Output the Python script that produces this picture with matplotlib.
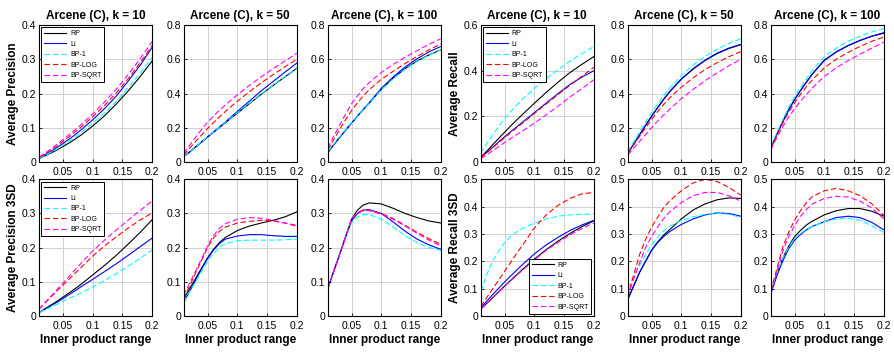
import matplotlib
matplotlib.use("Agg")
import matplotlib.pyplot as plt
from matplotlib.ticker import FuncFormatter

plt.rcParams['font.family'] = ['Liberation Sans', 'DejaVu Sans']

# ---------------- data ----------------
X = [0.01, 0.02, 0.03, 0.04, 0.05, 0.06, 0.07, 0.08, 0.10, 0.12, 0.14, 0.16, 0.18, 0.20]
SERIES = ["RP", "Li", "BP-1", "BP-LOG", "BP-SQRT"]

# Average Precision, k = 10
P10_RP   = [0.010, 0.018, 0.026, 0.035, 0.045, 0.055, 0.066, 0.078, 0.105, 0.135, 0.170, 0.208, 0.250, 0.295]
P10_LI   = [0.012, 0.021, 0.031, 0.042, 0.054, 0.066, 0.079, 0.093, 0.123, 0.156, 0.193, 0.237, 0.283, 0.335]
P10_BP1  = [0.011, 0.019, 0.028, 0.038, 0.049, 0.060, 0.072, 0.085, 0.113, 0.143, 0.178, 0.218, 0.260, 0.305]
P10_LOG  = [0.013, 0.024, 0.035, 0.047, 0.060, 0.073, 0.087, 0.101, 0.132, 0.165, 0.202, 0.244, 0.290, 0.340]
P10_SQRT = [0.014, 0.026, 0.038, 0.051, 0.065, 0.079, 0.093, 0.108, 0.140, 0.175, 0.213, 0.256, 0.302, 0.352]
# Average Precision, k = 50
P50_RP   = [0.030, 0.058, 0.087, 0.116, 0.145, 0.173, 0.201, 0.229, 0.285, 0.340, 0.395, 0.447, 0.497, 0.548]
P50_LI   = [0.032, 0.060, 0.089, 0.118, 0.147, 0.176, 0.205, 0.234, 0.295, 0.355, 0.415, 0.470, 0.525, 0.578]
P50_BP1  = [0.032, 0.060, 0.089, 0.118, 0.147, 0.175, 0.203, 0.231, 0.288, 0.343, 0.397, 0.449, 0.499, 0.550]
P50_LOG  = [0.040, 0.080, 0.120, 0.158, 0.195, 0.230, 0.263, 0.295, 0.355, 0.410, 0.462, 0.510, 0.556, 0.600]
P50_SQRT = [0.050, 0.098, 0.145, 0.190, 0.232, 0.268, 0.302, 0.333, 0.392, 0.447, 0.497, 0.545, 0.590, 0.635]
# Average Precision, k = 100
P100_RP   = [0.055, 0.100, 0.143, 0.186, 0.227, 0.268, 0.307, 0.345, 0.425, 0.490, 0.545, 0.590, 0.625, 0.655]
P100_LI   = [0.055, 0.100, 0.143, 0.186, 0.227, 0.268, 0.308, 0.347, 0.430, 0.497, 0.555, 0.603, 0.643, 0.675]
P100_BP1  = [0.060, 0.104, 0.147, 0.189, 0.229, 0.269, 0.307, 0.344, 0.422, 0.487, 0.542, 0.587, 0.623, 0.655]
P100_LOG  = [0.070, 0.130, 0.190, 0.247, 0.300, 0.345, 0.387, 0.423, 0.483, 0.530, 0.575, 0.617, 0.655, 0.690]
P100_SQRT = [0.080, 0.150, 0.215, 0.280, 0.340, 0.387, 0.430, 0.465, 0.523, 0.570, 0.612, 0.650, 0.687, 0.720]
# Average Recall, k = 10
R10_RP   = [0.020, 0.047, 0.075, 0.103, 0.130, 0.157, 0.183, 0.208, 0.257, 0.305, 0.350, 0.392, 0.428, 0.462]
R10_LI   = [0.020, 0.042, 0.064, 0.087, 0.110, 0.132, 0.153, 0.174, 0.216, 0.258, 0.300, 0.340, 0.372, 0.400]
R10_BP1  = [0.040, 0.080, 0.118, 0.155, 0.190, 0.220, 0.248, 0.275, 0.322, 0.365, 0.405, 0.442, 0.475, 0.505]
R10_LOG  = [0.020, 0.041, 0.062, 0.084, 0.106, 0.128, 0.149, 0.170, 0.212, 0.254, 0.296, 0.336, 0.376, 0.415]
R10_SQRT = [0.015, 0.032, 0.049, 0.067, 0.085, 0.102, 0.119, 0.136, 0.170, 0.207, 0.245, 0.285, 0.322, 0.360]
# Average Recall, k = 50
R50_RP   = [0.050, 0.105, 0.160, 0.215, 0.267, 0.317, 0.365, 0.410, 0.485, 0.545, 0.595, 0.635, 0.665, 0.687]
R50_LI   = [0.050, 0.104, 0.158, 0.212, 0.265, 0.315, 0.363, 0.408, 0.483, 0.543, 0.593, 0.633, 0.663, 0.685]
R50_BP1  = [0.060, 0.118, 0.175, 0.232, 0.287, 0.338, 0.386, 0.430, 0.505, 0.567, 0.617, 0.658, 0.692, 0.720]
R50_LOG  = [0.050, 0.100, 0.150, 0.200, 0.248, 0.293, 0.335, 0.373, 0.437, 0.492, 0.540, 0.580, 0.615, 0.645]
R50_SQRT = [0.040, 0.080, 0.120, 0.160, 0.200, 0.238, 0.273, 0.306, 0.370, 0.425, 0.475, 0.520, 0.562, 0.600]
# Average Recall, k = 100
R100_RP   = [0.080, 0.160, 0.235, 0.305, 0.365, 0.418, 0.468, 0.515, 0.595, 0.643, 0.680, 0.710, 0.735, 0.755]
R100_LI   = [0.080, 0.158, 0.232, 0.302, 0.362, 0.416, 0.466, 0.513, 0.593, 0.642, 0.680, 0.710, 0.735, 0.752]
R100_BP1  = [0.090, 0.170, 0.245, 0.318, 0.380, 0.435, 0.487, 0.535, 0.615, 0.665, 0.705, 0.735, 0.760, 0.780]
R100_LOG  = [0.080, 0.155, 0.225, 0.290, 0.345, 0.395, 0.440, 0.480, 0.550, 0.600, 0.640, 0.675, 0.705, 0.730]
R100_SQRT = [0.070, 0.140, 0.205, 0.262, 0.310, 0.355, 0.395, 0.432, 0.500, 0.550, 0.592, 0.630, 0.665, 0.700]
# Average Precision 3SD, k = 10
PS10_RP   = [0.010, 0.021, 0.032, 0.043, 0.055, 0.067, 0.079, 0.092, 0.120, 0.148, 0.178, 0.211, 0.245, 0.282]
PS10_LI   = [0.010, 0.020, 0.030, 0.040, 0.051, 0.062, 0.073, 0.085, 0.107, 0.130, 0.153, 0.178, 0.203, 0.228]
PS10_BP1  = [0.010, 0.018, 0.026, 0.034, 0.043, 0.051, 0.059, 0.067, 0.085, 0.104, 0.124, 0.146, 0.169, 0.193]
PS10_LOG  = [0.020, 0.038, 0.056, 0.073, 0.090, 0.107, 0.124, 0.141, 0.175, 0.205, 0.232, 0.258, 0.281, 0.302]
PS10_SQRT = [0.020, 0.039, 0.058, 0.077, 0.096, 0.115, 0.134, 0.153, 0.190, 0.222, 0.252, 0.281, 0.309, 0.337]
# Average Precision 3SD, k = 50
PS50_RP   = [0.050, 0.080, 0.110, 0.140, 0.170, 0.195, 0.215, 0.230, 0.250, 0.263, 0.272, 0.280, 0.290, 0.305]
PS50_LI   = [0.040, 0.072, 0.105, 0.138, 0.168, 0.193, 0.212, 0.225, 0.234, 0.238, 0.238, 0.235, 0.233, 0.233]
PS50_BP1  = [0.040, 0.070, 0.100, 0.130, 0.160, 0.183, 0.200, 0.212, 0.220, 0.222, 0.222, 0.222, 0.223, 0.225]
PS50_LOG  = [0.050, 0.088, 0.126, 0.163, 0.200, 0.228, 0.248, 0.260, 0.272, 0.277, 0.280, 0.278, 0.272, 0.265]
PS50_SQRT = [0.060, 0.096, 0.132, 0.168, 0.205, 0.235, 0.257, 0.270, 0.283, 0.288, 0.286, 0.280, 0.272, 0.262]
# Average Precision 3SD, k = 100
PS100_RP   = [0.080, 0.130, 0.180, 0.232, 0.283, 0.310, 0.325, 0.331, 0.328, 0.315, 0.300, 0.288, 0.278, 0.272]
PS100_LI   = [0.080, 0.130, 0.180, 0.230, 0.278, 0.300, 0.310, 0.311, 0.300, 0.275, 0.248, 0.225, 0.208, 0.195]
PS100_BP1  = [0.080, 0.130, 0.180, 0.228, 0.272, 0.290, 0.297, 0.297, 0.283, 0.260, 0.235, 0.215, 0.200, 0.192]
PS100_LOG  = [0.080, 0.130, 0.180, 0.232, 0.283, 0.303, 0.310, 0.310, 0.300, 0.285, 0.265, 0.245, 0.226, 0.210]
PS100_SQRT = [0.080, 0.130, 0.180, 0.232, 0.283, 0.302, 0.308, 0.308, 0.298, 0.283, 0.263, 0.242, 0.222, 0.205]
# Average Recall 3SD, k = 10
RS10_RP   = [0.025, 0.046, 0.067, 0.088, 0.109, 0.130, 0.150, 0.170, 0.208, 0.243, 0.274, 0.302, 0.327, 0.348]
RS10_LI   = [0.030, 0.054, 0.078, 0.101, 0.124, 0.146, 0.167, 0.188, 0.227, 0.260, 0.288, 0.313, 0.333, 0.350]
RS10_BP1  = [0.090, 0.150, 0.200, 0.237, 0.268, 0.290, 0.307, 0.320, 0.340, 0.355, 0.365, 0.370, 0.372, 0.373]
RS10_LOG  = [0.035, 0.067, 0.099, 0.131, 0.163, 0.195, 0.228, 0.258, 0.322, 0.370, 0.405, 0.430, 0.447, 0.452]
RS10_SQRT = [0.025, 0.045, 0.066, 0.087, 0.108, 0.128, 0.148, 0.167, 0.205, 0.240, 0.270, 0.297, 0.320, 0.340]
# Average Recall 3SD, k = 50
RS50_RP   = [0.060, 0.110, 0.160, 0.200, 0.240, 0.270, 0.295, 0.315, 0.355, 0.388, 0.410, 0.425, 0.432, 0.430]
RS50_LI   = [0.060, 0.110, 0.160, 0.200, 0.240, 0.268, 0.290, 0.308, 0.335, 0.355, 0.370, 0.377, 0.375, 0.365]
RS50_BP1  = [0.100, 0.145, 0.185, 0.225, 0.260, 0.288, 0.310, 0.328, 0.350, 0.363, 0.372, 0.376, 0.372, 0.360]
RS50_LOG  = [0.070, 0.150, 0.225, 0.280, 0.325, 0.360, 0.395, 0.420, 0.458, 0.487, 0.500, 0.492, 0.470, 0.442]
RS50_SQRT = [0.070, 0.135, 0.195, 0.250, 0.290, 0.325, 0.355, 0.380, 0.415, 0.440, 0.452, 0.452, 0.440, 0.420]
# Average Recall 3SD, k = 100
RS100_RP   = [0.085, 0.150, 0.210, 0.255, 0.290, 0.313, 0.333, 0.347, 0.370, 0.385, 0.393, 0.393, 0.383, 0.365]
RS100_LI   = [0.080, 0.145, 0.200, 0.245, 0.277, 0.298, 0.315, 0.328, 0.345, 0.360, 0.365, 0.360, 0.342, 0.315]
RS100_BP1  = [0.090, 0.155, 0.210, 0.252, 0.283, 0.302, 0.317, 0.328, 0.345, 0.355, 0.358, 0.350, 0.330, 0.305]
RS100_LOG  = [0.090, 0.170, 0.250, 0.305, 0.350, 0.385, 0.415, 0.437, 0.458, 0.467, 0.458, 0.440, 0.410, 0.368]
RS100_SQRT = [0.080, 0.160, 0.235, 0.290, 0.330, 0.365, 0.390, 0.410, 0.430, 0.438, 0.435, 0.420, 0.395, 0.355]

TITLES = ["Arcene (C), k = 10", "Arcene (C), k = 50", "Arcene (C), k = 100",
          "Arcene (C), k = 10", "Arcene (C), k = 50", "Arcene (C), k = 100"]
XTICKS = [0.05, 0.1, 0.15, 0.2]

# ---------------- layout / style ----------------
W, H = 894, 352
LEFTS = [39, 183.7, 327.7, 480.7, 627.7, 770.7]
PW = 113.2
ROWS = [(25, 162), (179.3, 316)]
COLORS = ['black', 'blue', 'cyan', 'red', 'magenta']
STYLES = ['-', '-', (0, (5, 2.5)), (0, (5, 2.5)), (0, (5, 2.5))]

panels = [
    # row 0
    ([P10_RP, P10_LI, P10_BP1, P10_LOG, P10_SQRT], 0.4, 0.1, "Average Precision", 'upper left'),
    ([P50_RP, P50_LI, P50_BP1, P50_LOG, P50_SQRT], 0.8, 0.2, None, None),
    ([P100_RP, P100_LI, P100_BP1, P100_LOG, P100_SQRT], 0.8, 0.2, None, None),
    ([R10_RP, R10_LI, R10_BP1, R10_LOG, R10_SQRT], 0.6, 0.2, "Average Recall", 'upper left'),
    ([R50_RP, R50_LI, R50_BP1, R50_LOG, R50_SQRT], 0.8, 0.2, None, None),
    ([R100_RP, R100_LI, R100_BP1, R100_LOG, R100_SQRT], 0.8, 0.2, None, None),
    # row 1
    ([PS10_RP, PS10_LI, PS10_BP1, PS10_LOG, PS10_SQRT], 0.4, 0.1, "Average Precision 3SD", 'upper left'),
    ([PS50_RP, PS50_LI, PS50_BP1, PS50_LOG, PS50_SQRT], 0.4, 0.1, None, None),
    ([PS100_RP, PS100_LI, PS100_BP1, PS100_LOG, PS100_SQRT], 0.4, 0.1, None, None),
    ([RS10_RP, RS10_LI, RS10_BP1, RS10_LOG, RS10_SQRT], 0.5, 0.1, "Average Recall 3SD", 'lower right'),
    ([RS50_RP, RS50_LI, RS50_BP1, RS50_LOG, RS50_SQRT], 0.5, 0.1, None, None),
    ([RS100_RP, RS100_LI, RS100_BP1, RS100_LOG, RS100_SQRT], 0.5, 0.1, None, None),
]

fmt = FuncFormatter(lambda v, p: ('%g' % round(v, 3)))

fig = plt.figure(figsize=(W / 100, H / 100), dpi=100)

for i, (data, ymax, ystep, ylabel, legloc) in enumerate(panels):
    r, c = divmod(i, 6)
    top, bot = ROWS[r]
    ax = fig.add_axes([LEFTS[c] / W, (H - bot) / H, PW / W, (bot - top) / H])
    for name, ys, col, ls in zip(SERIES, data, COLORS, STYLES):
        ax.plot(X, ys, color=col, linestyle=ls, linewidth=0.8, label=name)
    ax.set_xlim(0.01, 0.2)
    ax.set_ylim(0, ymax)
    ax.set_xticks(XTICKS)
    n = int(round(ymax / ystep))
    ax.set_yticks([k * ystep for k in range(n + 1)])
    ax.xaxis.set_major_formatter(fmt)
    ax.yaxis.set_major_formatter(fmt)
    ax.tick_params(direction='in', length=2, width=0.6, labelsize=7.5, pad=2, colors='black')
    ax.tick_params(axis='x', pad=3.5)
    ax.grid(True, color='#d0d0d0', linewidth=0.7)
    ax.set_axisbelow(True)
    for sp in ax.spines.values():
        sp.set_linewidth(0.8)
        sp.set_color('black')
    if r == 0:
        ax.set_title(TITLES[c], fontsize=8.5, fontweight='bold', pad=4)
    else:
        ax.set_xlabel("Inner product range", fontsize=8.5, fontweight='bold', labelpad=2)
    if ylabel:
        ax.set_ylabel(ylabel, fontsize=8.5, fontweight='bold', labelpad=2)
    if legloc:
        leg = ax.legend(loc=legloc, fontsize=5, frameon=True, fancybox=False,
                        edgecolor='black', framealpha=1, handlelength=3.2,
                        handletextpad=0.5, borderpad=0.4, labelspacing=0.5,
                        borderaxespad=0.35)
        leg.get_frame().set_linewidth(0.7)

fig.savefig("out.png", dpi=100)
